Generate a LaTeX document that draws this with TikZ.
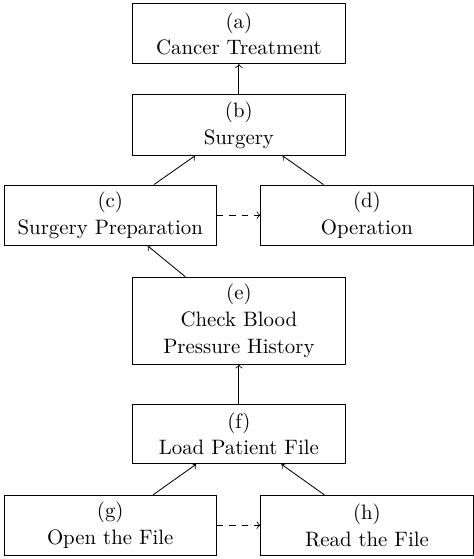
\documentclass[tikz,border=0pt]{standalone}
\usetikzlibrary{positioning}
\tikzset{
  block/.style={draw,rectangle,align=center,minimum width=3.58cm,minimum height=1.01cm,
    font=\fontsize{10}{12.8}\selectfont},
  link/.style={->},
  dlink/.style={->,dashed}
}
\begin{document}
\begin{tikzpicture}
%\draw[step=0.5cm,gray,very thin] (0,0) grid (8,9.5);
\useasboundingbox (0,0) rectangle (7.99,9.43);
\node[block] (a) at (4.03,8.86) {(a)\\Cancer Treatment};
\node[block] (b) at (4.03,7.32) {(b)\\Surgery};
\node[block] (c) at (1.86,5.80) {(c)\\Surgery Preparation};
\node[block] (d) at (6.19,5.80) {(d)\\Operation};
\node[block] (e) at (4.03,4.02) {(e)\\Check Blood\\Pressure History};
\node[block] (f) at (4.03,2.11) {(f)\\Load Patient File};
\node[block] (g) at (1.86,0.57) {(g)\\Open the File};
\node[block] (h) at (6.19,0.57) {(h)\\Read the File};

\draw[link] (b) -- (a);
\draw[link] (c) -- (b);
\draw[link] (d) -- (b);
\draw[dlink] (c) -- (d);
\draw[link] (e) -- (c);
\draw[link] (f) -- (e);
\draw[link] (g) -- (f);
\draw[link] (h) -- (f);
\draw[dlink] (g) -- (h);

\end{tikzpicture}
\end{document}
